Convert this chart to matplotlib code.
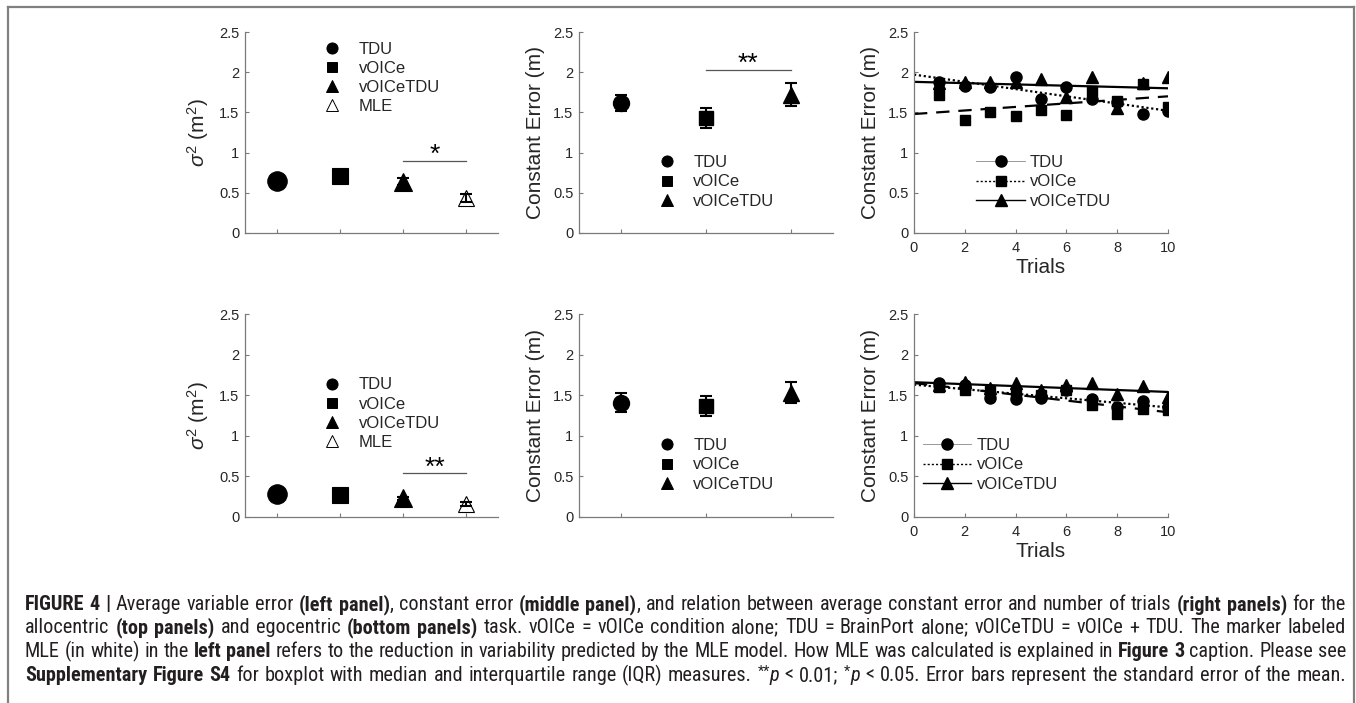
import matplotlib
matplotlib.use("Agg")
import matplotlib.pyplot as plt
from matplotlib.lines import Line2D
from matplotlib.transforms import IdentityTransform
from matplotlib import font_manager
import numpy as np

# ---------------- data ----------------
cond4 = ['TDU', 'vOICe', 'vOICeTDU', 'MLE']
cond3 = ['TDU', 'vOICe', 'vOICeTDU']

var_allo = [0.65, 0.71, 0.64, 0.43]
var_allo_se = [0.05, 0.07, 0.04, 0.05]
var_ego = [0.28, 0.27, 0.23, 0.16]
var_ego_se = [0.02, 0.02, 0.02, 0.03]

const_allo = [1.62, 1.43, 1.72]
const_allo_se = [0.10, 0.12, 0.14]
const_ego = [1.41, 1.37, 1.53]
const_ego_se = [0.12, 0.12, 0.13]

trials = [1, 2, 3, 4, 5, 6, 7, 8, 9, 10]
allo_tdu = [1.88, 1.83, 1.81, 1.94, 1.67, 1.81, 1.67, 1.63, 1.48, 1.52]
allo_voice = [1.72, 1.41, 1.51, 1.45, 1.53, 1.47, 1.76, 1.64, 1.85, 1.57]
allo_vt = [1.87, 1.88, 1.88, 1.88, 1.91, 1.69, 1.94, 1.55, 1.87, 1.94]
ego_tdu = [1.65, 1.63, 1.46, 1.45, 1.47, 1.56, 1.45, 1.35, 1.43, 1.36]
ego_voice = [1.60, 1.57, 1.55, 1.52, 1.50, 1.57, 1.38, 1.27, 1.33, 1.32]
ego_vt = [1.63, 1.66, 1.59, 1.65, 1.57, 1.63, 1.65, 1.52, 1.61, 1.48]

fit_x = [0, 10]
allo_fit_tdu = [1.97, 1.52]
allo_fit_voice = [1.48, 1.70]
allo_fit_vt = [1.88, 1.80]
ego_fit_tdu = [1.63, 1.35]
ego_fit_voice = [1.65, 1.29]
ego_fit_vt = [1.66, 1.54]

yticks = [0, 0.5, 1, 1.5, 2, 2.5]
ytick_labels = ['0', '0.5', '1', '1.5', '2', '2.5']
xticks_trials = [0, 2, 4, 6, 8, 10]

# ---------------- style ----------------
plt.rcParams['font.family'] = ['Liberation Sans', 'DejaVu Sans']
plt.rcParams['mathtext.fontset'] = 'custom'
plt.rcParams['mathtext.rm'] = 'Liberation Sans'
plt.rcParams['mathtext.it'] = 'Liberation Sans:italic'
W, H = 1356, 703
fig = plt.figure(figsize=(W / 100, H / 100), dpi=100)
fig.patch.set_facecolor('white')

SPINE = '#7a7a7a'
TXT = '#262626'


def ax_at(x0, x1, ytop, ybot):
    return fig.add_axes([x0 / W, 1 - ybot / H, (x1 - x0) / W, (ybot - ytop) / H])


def style(ax, ylabel):
    for s in ['top', 'right']:
        ax.spines[s].set_visible(False)
    for s in ['left', 'bottom']:
        ax.spines[s].set_color(SPINE)
        ax.spines[s].set_linewidth(0.9)
    ax.set_ylim(0, 2.5)
    ax.set_yticks(yticks)
    ax.set_yticklabels(ytick_labels)
    ax.tick_params(direction='in', length=3, width=0.8, color=SPINE,
                   labelsize=10.5, labelcolor=TXT, pad=4)
    ax.set_ylabel(ylabel, fontsize=15, color=TXT, labelpad=6)
    ax.set_facecolor('none')


cols = [(245, 498), (579, 833), (914, 1168)]
rows = [(32, 233), (314, 517)]

markers4 = ['o', 's', '^', '^']
msz_left = [14, 11, 13, 11]
msz_mid = [11.5, 9.5, 11.5]


def sig_mark(ax, x0, x1, y, txt):
    ax.plot([x0, x1], [y, y], color='#555555', lw=0.9)
    ax.text((x0 + x1) / 2, y - 0.08, txt, ha='center', va='bottom', fontsize=19,
            color='black')


def left_panel(ax, vals, se, sig, star_txt):
    x = np.arange(1, 5)
    for i in range(4):
        is_mle = cond4[i] == 'MLE'
        face = 'white' if is_mle else 'black'
        ax.plot(x[i], vals[i], marker=markers4[i], ms=msz_left[i], mfc=face,
                mec='black', mew=0.8, ls='none', zorder=3)
        ax.errorbar(x[i], vals[i], yerr=se[i], fmt='none', ecolor='black',
                    elinewidth=1.5, capsize=4, capthick=1.5,
                    zorder=4 if is_mle else 2)
    ax.set_xlim(0.5, 4.5)
    ax.set_xticks(x)
    ax.set_xticklabels([])
    sig_mark(ax, 3, 4, sig, star_txt)


def marker_handles(n):
    hs = []
    for i in range(n):
        face = 'white' if cond4[i] == 'MLE' else 'black'
        hs.append(Line2D([], [], ls='none', marker=markers4[i],
                         ms=[8, 6.5, 8, 8][i], mfc=face, mec='black', mew=0.7))
    return hs


# ---- left panels ----
for r, (vals, se, sig, st, lpos) in enumerate([
        (var_allo, var_allo_se, 0.9, '*', (0.26, 1.01)),
        (var_ego, var_ego_se, 0.54, '**', (0.26, 0.745))]):
    ax = ax_at(cols[0][0], cols[0][1], rows[r][0], rows[r][1])
    style(ax, r'$\sigma^2$ (m$^2$)')
    left_panel(ax, vals, se, sig, st)
    ax.legend(marker_handles(4), cond4, loc='upper left', bbox_to_anchor=lpos,
              frameon=False, fontsize=12, handlelength=1.2, handletextpad=1.0,
              labelspacing=0.25, borderpad=0.2, labelcolor=TXT)

# ---- middle panels ----
for r, (vals, se) in enumerate([(const_allo, const_allo_se), (const_ego, const_ego_se)]):
    ax = ax_at(cols[1][0], cols[1][1], rows[r][0], rows[r][1])
    style(ax, 'Constant Error (m)')
    x = np.arange(1, 4)
    for i in range(3):
        ax.errorbar(x[i], vals[i], yerr=se[i], fmt=markers4[i], ms=msz_mid[i],
                    mfc='black', mec='black', ecolor='black', elinewidth=1.5,
                    capsize=4, capthick=1.5, zorder=3)
    ax.set_xlim(0.5, 3.5)
    ax.set_xticks(x)
    ax.set_xticklabels([])
    if r == 0:
        sig_mark(ax, 2, 3, 2.03, '**')
    ax.legend(marker_handles(3), cond3, loc='upper left', bbox_to_anchor=(0.26, 0.445),
              frameon=False, fontsize=12, handlelength=1.2, handletextpad=1.0,
              labelspacing=0.25, borderpad=0.2, labelcolor=TXT)

# ---- right panels ----
for r, (d_t, d_v, d_vt, f_t, f_v, f_vt) in enumerate([
        (allo_tdu, allo_voice, allo_vt, allo_fit_tdu, allo_fit_voice, allo_fit_vt),
        (ego_tdu, ego_voice, ego_vt, ego_fit_tdu, ego_fit_voice, ego_fit_vt)]):
    ax = ax_at(cols[2][0], cols[2][1], rows[r][0], rows[r][1])
    style(ax, 'Constant Error (m)')
    ax.set_xlim(0, 10)
    ax.set_xticks(xticks_trials)
    ax.set_xticklabels([str(v) for v in xticks_trials])
    ax.set_xlabel('Trials', fontsize=15, color=TXT, labelpad=2)
    ax.plot(trials, d_t, ls='none', marker='o', ms=8, color='black', zorder=3)
    ax.plot(trials, d_v, ls='none', marker='s', ms=6.5, color='black', zorder=3)
    ax.plot(trials, d_vt, ls='none', marker='^', ms=8.5, color='black', zorder=3)
    ax.plot(fit_x, f_t, ls=(0, (1, 1.2)), color='black', lw=1.6, zorder=2)
    ax.plot(fit_x, f_v, ls=(0, (6, 4)), color='black', lw=1.6, zorder=2)
    ax.plot(fit_x, f_vt, ls='-', color='black', lw=1.6, zorder=2)
    ax.tick_params(axis='x', pad=6)
    hs = [Line2D([], [], ls='-', lw=0.6, color='#888888', marker='o', ms=8,
                 mfc='black', mec='black'),
          Line2D([], [], ls=(0, (1.5, 1.5)), lw=1.0, color='black', marker='s', ms=6.5),
          Line2D([], [], ls='-', lw=1.0, color='black', marker='^', ms=8.5)]
    lpos = (0.2, 0.445) if r == 0 else (-0.01, 0.445)
    ax.legend(hs, cond3, loc='upper left', bbox_to_anchor=lpos, frameon=False,
              fontsize=12, handlelength=2.9, handletextpad=0.3, labelspacing=0.25,
              borderpad=0.2, labelcolor=TXT)

# ---- frame lines ----
fig.add_artist(Line2D([8 / W, 1354 / W], [1 - 7 / H, 1 - 7 / H], color='#808080', lw=1.6))
fig.add_artist(Line2D([8 / W, 8 / W], [0, 1 - 7 / H], color='#808080', lw=1.6))
fig.add_artist(Line2D([1354 / W, 1354 / W], [0, 1 - 7 / H], color='#808080', lw=1.6))

# ---- caption ----
cap_font = 'Liberation Sans'
for cand in ['Liberation Sans Narrow', 'Roboto Condensed', 'DejaVu Sans Condensed']:
    try:
        font_manager.findfont(cand, fallback_to_default=False)
        cap_font = cand
        break
    except Exception:
        pass

caption_lines = [
    [('FIGURE 4 | ', 'b'), ('Average variable error ', ''), ('(left panel)', 'b'),
     (', constant error ', ''), ('(middle panel)', 'b'),
     (', and relation between average constant error and number of trials ', ''),
     ('(right panels)', 'b'), (' for the', '')],
    [('allocentric ', ''), ('(top panels)', 'b'), (' and egocentric ', ''),
     ('(bottom panels)', 'b'),
     (' task. vOICe = vOICe condition alone; TDU = BrainPort alone; vOICeTDU = vOICe + TDU. The marker labeled', '')],
    [('MLE (in white) in the ', ''), ('left panel', 'b'),
     (' refers to the reduction in variability predicted by the MLE model. How MLE was calculated is explained in ', ''),
     ('Figure 3', 'b'), (' caption. Please see', '')],
    [('Supplementary Figure S4', 'b'),
     (' for boxplot with median and interquartile range (IQR) measures. ', ''),
     ('**', 's'), ('p', 'i'), (' < 0.01; ', ''), ('*', 's'), ('p', 'i'),
     (' < 0.05. Error bars represent the standard error of the mean.', '')],
]
cap_base = [610, 633, 657, 681]
cap_x0, cap_x1 = 25, 1346
CAPC = '#231f20'

fig.canvas.draw()
renderer = fig.canvas.get_renderer()


def tokenize(segs):
    tokens = [[]]
    for txt, st in segs:
        pieces = txt.split(' ')
        for k, p in enumerate(pieces):
            if k > 0:
                tokens.append([])
            if p:
                tokens[-1].append((p, st))
    return [t for t in tokens if t]


def make_kw(st, size):
    kw = dict(fontsize=size, family=[cap_font, 'DejaVu Sans'], color=CAPC,
              transform=IdentityTransform(), va='baseline', ha='left')
    dy = 0
    if 'b' in st:
        kw['fontweight'] = 'bold'
    if 'i' in st:
        kw['fontstyle'] = 'italic'
    if 's' in st:
        kw['fontsize'] = size * 0.7
        dy = 5
    return kw, dy


def measure(tokens, size):
    total = 0
    for tok in tokens:
        for p, st in tok:
            kw, dy = make_kw(st, size)
            t = fig.text(0, 0, p, **kw)
            total += t.get_window_extent(renderer).width
            t.remove()
    sp = fig.text(0, 0, 'a a', fontsize=size, family=[cap_font, 'DejaVu Sans'],
                  transform=IdentityTransform())
    wa = fig.text(0, 0, 'aa', fontsize=size, family=[cap_font, 'DejaVu Sans'],
                  transform=IdentityTransform())
    spw = sp.get_window_extent(renderer).width - wa.get_window_extent(renderer).width
    sp.remove()
    wa.remove()
    return total + spw * (len(tokens) - 1)


# choose a size so that the natural width of the lines fills the column
base = 12.0
sizes = []
for segs in caption_lines:
    nat = measure(tokenize(segs), base)
    sizes.append(base * (cap_x1 - cap_x0) / nat)
cap_size = min(sizes) * 0.995

for segs, yb in zip(caption_lines, cap_base):
    tokens = tokenize(segs)
    arts = []
    widths = []
    for tok in tokens:
        tart = []
        w = 0
        for p, st in tok:
            kw, dy = make_kw(st, cap_size)
            t = fig.text(0, H - yb + dy, p, **kw)
            ww = t.get_window_extent(renderer).width
            tart.append((t, w))
            w += ww
        arts.append(tart)
        widths.append(w)
    gap = (cap_x1 - cap_x0 - sum(widths)) / max(len(tokens) - 1, 1)
    x = cap_x0
    for tart, w in zip(arts, widths):
        for t, off in tart:
            pos = t.get_position()
            t.set_position((x + off, pos[1]))
        x += w + gap

fig.savefig('out.png', dpi=100, facecolor='white')
